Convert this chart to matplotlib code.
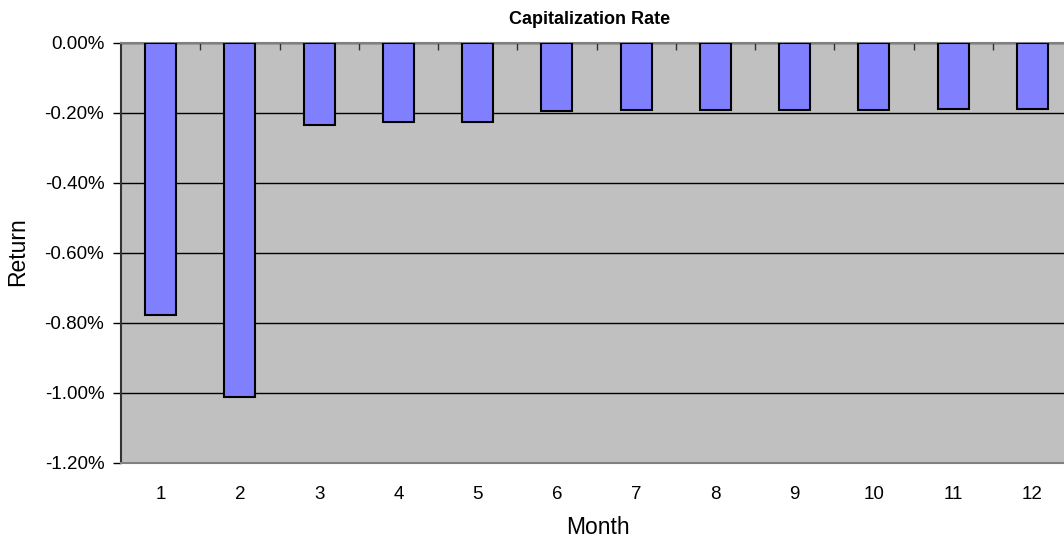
import matplotlib
matplotlib.use("Agg")
import matplotlib.pyplot as plt
import numpy as np
from matplotlib.ticker import FuncFormatter, FixedLocator

plt.rcParams["font.family"] = ["Liberation Sans", "DejaVu Sans"]

months = [1, 2, 3, 4, 5, 6, 7, 8, 9, 10, 11, 12]
cap_rate = [-0.777, -1.013, -0.235, -0.227, -0.227, -0.194,
            -0.193, -0.192, -0.192, -0.191, -0.190, -0.190]  # percent
y_ticks = [0.0, -0.2, -0.4, -0.6, -0.8, -1.0, -1.2]

W, H = 1064, 544
fig = plt.figure(figsize=(W / 100, H / 100), dpi=100)
ax = fig.add_axes([121 / W, 1 - 462.5 / H, 951 / W, 419.8 / H])

x = np.arange(len(months))
ax.set_facecolor("#C0C0C0")
ax.bar(x, cap_rate, width=0.39, color="#8080FF", edgecolor="black",
       linewidth=1.5, zorder=3)

ax.set_xlim(-0.5, len(months) - 0.5)
ax.set_ylim(-1.2, 0.0)
ax.set_yticks(y_ticks)
ax.yaxis.set_major_formatter(FuncFormatter(lambda v, _: f"{v:.2f}%"))
ax.grid(axis="y", color="black", linewidth=1.0, zorder=1)

ax.set_xticks(x)
ax.set_xticklabels([str(m) for m in months])
ax.xaxis.set_minor_locator(FixedLocator(x[:-1] + 0.5))
ax.tick_params(axis="x", which="major", length=0, pad=17, labelsize=13.5)
ax.tick_params(axis="x", which="minor", top=True, bottom=False,
               direction="in", length=5, width=1, color="#333333")
ax.tick_params(axis="y", length=6, width=1, labelsize=13.5, pad=6)

ax.spines["left"].set_color("#333333")
ax.spines["left"].set_linewidth(1.5)
for side in ("top", "bottom"):
    ax.spines[side].set_color("#808080")
    ax.spines[side].set_linewidth(1.5)
ax.spines["right"].set_visible(False)

# axis titles and chart title placed in figure coordinates
fig.text(598 / W, 1 - 527 / H, "Month", fontsize=16.5, ha="center", va="center")
fig.text(18 / W, 1 - 252 / H, "Return", fontsize=16.5, rotation=90,
         ha="center", va="center")
fig.text(590 / W, 1 - 20 / H, "Capitalization Rate", fontsize=13,
         fontweight="bold", ha="center", va="center")

fig.savefig("out.png", dpi=100)
